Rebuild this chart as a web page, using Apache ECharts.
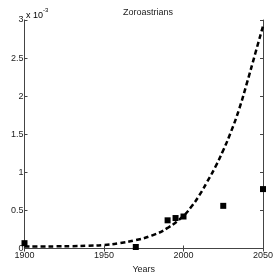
<!DOCTYPE html>
<html><head><meta charset="utf-8">
<script src="https://cdn.jsdelivr.net/npm/echarts@6/dist/echarts.min.js"></script>
<style>html,body{margin:0;padding:0;background:#fff}#c{width:273px;height:273px}</style>
</head><body><div id="c"></div>
<script>
var titleText = 'Zoroastrians';
var xName = 'Years';
var yName = '% of Adherents';
var xTicks = [1900, 1950, 2000, 2050];
var yTicks = [0, 0.5, 1, 1.5, 2, 2.5, 3];
// observed data (units of 1e-3 %)
var obsYears = [1900, 1970, 1990, 1995, 2000, 2025, 2050];
var obsValues = [0.07, 0.02, 0.37, 0.40, 0.42, 0.56, 0.78];
// fitted curve
var fitYears = [1900, 1910, 1920, 1930, 1940, 1950, 1960, 1970, 1980, 1990, 2000, 2005, 2010, 2015, 2020, 2025, 2030, 2035, 2040, 2045, 2050];
var fitValues = [0.025, 0.026, 0.028, 0.031, 0.036, 0.045, 0.07, 0.11, 0.17, 0.27, 0.43, 0.55, 0.7, 0.88, 1.07, 1.29, 1.54, 1.83, 2.18, 2.55, 2.92];

var font = 'Liberation Sans, Arial, sans-serif';
var chart = echarts.init(document.getElementById('c'), null, {renderer: 'canvas'});
var axisLine = {show: true, lineStyle: {color: '#444', width: 1}};
var tickIn = {show: true, inside: true, length: 3, lineStyle: {color: '#444'}};
chart.setOption({
  animation: false,
  backgroundColor: '#fff',
  title: {text: titleText, left: 143, top: 3, textAlign: 'center',
    textStyle: {fontFamily: font, fontSize: 9, fontWeight: 'normal', color: '#222'}},
  grid: {left: 24.5, right: 10, top: 20, bottom: 24.5, containLabel: false, outerBoundsMode: 'none'},
  xAxis: [{
    type: 'value', min: xTicks[0], max: xTicks[xTicks.length - 1], interval: 50,
    name: xName, nameLocation: 'middle', nameGap: 17,
    nameTextStyle: {fontFamily: font, fontSize: 9, color: '#222'},
    axisLine: axisLine, axisTick: tickIn, splitLine: {show: false},
    axisLabel: {fontFamily: font, fontSize: 9, color: '#222', margin: 3,
      formatter: function (v) { return String(v); }}
  }, {
    type: 'value', position: 'top', min: xTicks[0], max: xTicks[xTicks.length - 1], interval: 50,
    axisLine: axisLine, axisTick: tickIn, axisLabel: {show: false}, splitLine: {show: false}
  }],
  yAxis: [{
    type: 'value', min: 0, max: 3, interval: 0.5,
    name: yName, nameLocation: 'middle', nameGap: 15,
    nameTextStyle: {fontFamily: font, fontSize: 9, color: '#222'},
    axisLine: axisLine, axisTick: tickIn, splitLine: {show: false},
    axisLabel: {fontFamily: font, fontSize: 9, color: '#222', margin: 1,
      formatter: function (v) { return String(v); }}
  }, {
    type: 'value', position: 'right', min: 0, max: 3, interval: 0.5,
    axisLine: axisLine, axisTick: tickIn, axisLabel: {show: false}, splitLine: {show: false}
  }],
  graphic: [{
    type: 'text', left: 26, top: 7,
    style: {
      text: '{a|x 10}{b|-3}',
      rich: {
        a: {fontFamily: font, fontSize: 9, color: '#222', verticalAlign: 'bottom', padding: [4, 0, 0, 0]},
        b: {fontFamily: font, fontSize: 6, color: '#222', verticalAlign: 'top'}
      }
    }
  }],
  series: [{
    type: 'line', smooth: true, symbol: 'none',
    data: fitYears.map(function (y, i) { return [y, fitValues[i]]; }),
    lineStyle: {color: '#000', width: 2.5, type: [5, 3]},
    z: 2
  }, {
    type: 'scatter', symbol: 'rect', symbolSize: 6,
    data: obsYears.map(function (y, i) { return [y, obsValues[i]]; }),
    itemStyle: {color: '#000', opacity: 1},
    z: 3
  }]
});
</script></body></html>
